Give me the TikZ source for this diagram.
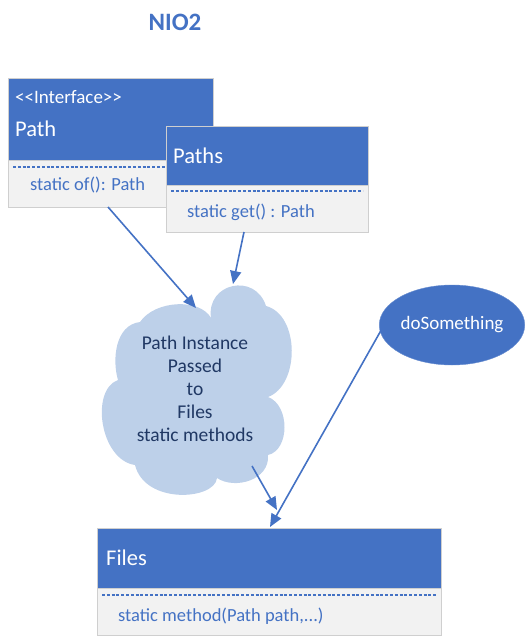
\documentclass[tikz,border=0pt]{standalone}
\usepackage{fontspec}
\setmainfont{Carlito}
\usetikzlibrary{shapes.geometric,arrows.meta}
\definecolor{hdr}{HTML}{4472C4}
\definecolor{bodyfill}{HTML}{F2F2F2}
\definecolor{edge}{HTML}{CFCFCF}
\definecolor{cloudfill}{HTML}{BDD0E9}
\definecolor{cloudtext}{HTML}{203864}
\tikzset{
  hdrbox/.style={fill=hdr,draw=edge,line width=0.6pt,anchor=north west,inner sep=0},
  bodybox/.style={fill=bodyfill,draw=edge,line width=0.6pt,anchor=north west,inner sep=0},
  dashline/.style={draw=hdr,line width=1.1pt,dash pattern=on 3pt off 1.8pt},
  hdrtext/.style={text=white,anchor=west,font=\fontsize{22.5}{24}\selectfont,inner sep=0},
  stereo/.style={text=white,anchor=west,font=\fontsize{19}{21}\selectfont,inner sep=0},
  bodytext/.style={text=hdr,anchor=west,font=\fontsize{18.5}{21}\selectfont,inner sep=0},
  conn/.style={draw=hdr,line width=1.6pt,-{Triangle[length=13pt,width=11pt]}}
}
\begin{document}
\begin{tikzpicture}[x=1pt,y=-1pt]
\useasboundingbox (0,0) rectangle (527,642);
% title
\node[text=hdr,font=\bfseries\fontsize{25}{27}\selectfont] (title) at (175,22) {NIO2};
% Path box
\node[hdrbox,minimum width=205,minimum height=82] (pathhdr) at (8,78) {};
\node[bodybox,minimum width=205,minimum height=47] (pathbody) at (8,160) {};
\draw[dashline] (13,167) -- (208,167);
\node[stereo] (pathstereo) at (15,97) {<\kern0pt<Interface>\kern0pt>};
\node[hdrtext] (pathname) at (15,129) {Path};
\node[bodytext] (pathop) at (30,185) {static of(): Path};
% Paths box
\node[hdrbox,minimum width=202,minimum height=59] (pathshdr) at (166,126) {};
\node[bodybox,minimum width=202,minimum height=47] (pathsbody) at (166,185) {};
\draw[dashline] (171,191) -- (363,191);
\node[hdrtext] (pathsname) at (173,156) {Paths};
\node[bodytext] (pathsop) at (187,212) {static get() : Path};
% cloud
\fill[cloudfill] (211,318) .. controls (206,283) and (255,272) .. (266,306)
  .. controls (300,315) and (300,385) .. (268,397)
  .. controls (290,405) and (290,450) .. (268,455)
  .. controls (270,480) and (235,490) .. (217,478)
  .. controls (215,500) and (145,505) .. (135,465)
  .. controls (100,460) and (90,390) .. (118,380)
  .. controls (112,360) and (115,325) .. (140,322)
  .. controls (155,300) and (200,298) .. (211,318) -- cycle;
\node[text=cloudtext,align=center,font=\fontsize{19.5}{23}\selectfont,inner sep=0] (cloud) at (195,389)
      {Path Instance\\Passed\\to\\Files\\static methods};
% doSomething
\node[ellipse,fill=hdr,draw=hdr!80!white,minimum width=134,minimum height=80,inner sep=0,
      text=white,font=\fontsize{19}{21}\selectfont] (ds) at (452,325) {doSomething};
% Files box
\node[hdrbox,minimum width=344,minimum height=60] (fileshdr) at (97,528) {};
\node[bodybox,minimum width=344,minimum height=47] (filesbody) at (97,588) {};
\draw[dashline] (102,595) -- (436,595);
\node[hdrtext] (filesname) at (106,558) {Files};
\node[bodytext] (filesop) at (118,616) {static method(Path path,...)};
% connector end points
\coordinate (a1s) at (108,207);
\coordinate (a1e) at (196,308);
\coordinate (a2s) at (244,232);
\coordinate (a2e) at (233,284);
\coordinate (a3s) at (252,466);
\coordinate (a3e) at (277,510);
\coordinate (a4s) at (388,318);
\coordinate (a4e) at (270,527);
\draw[conn] (a1s) -- (a1e);
\draw[conn] (a2s) -- (a2e);
\draw[conn] (a3s) -- (a3e);
\draw[conn] (a4s) -- (a4e);
\end{tikzpicture}
\end{document}
